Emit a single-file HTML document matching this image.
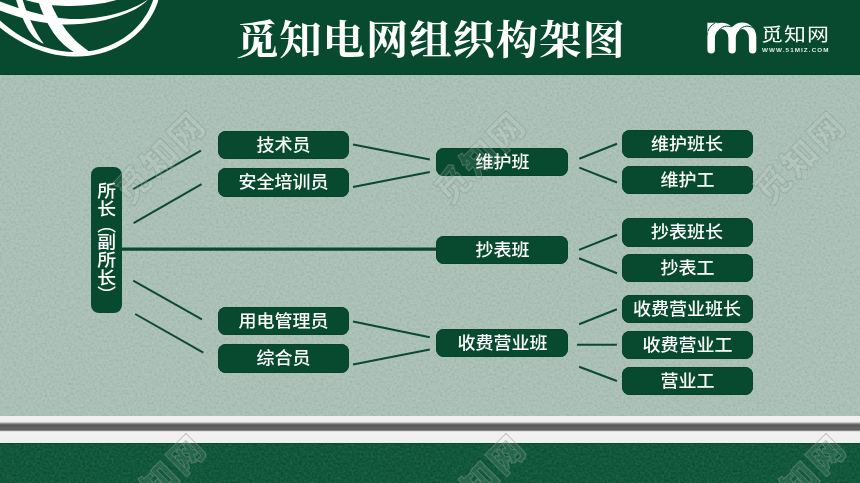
<!DOCTYPE html>
<html lang="zh-CN">
<head>
<meta charset="utf-8">
<title>觅知电网组织构架图</title>
<style>
html,body{margin:0;padding:0;}
body{width:860px;height:483px;overflow:hidden;background:#abc0b7;font-family:"Liberation Sans","Noto Sans CJK SC",sans-serif;}
#stage{position:relative;width:860px;height:483px;overflow:hidden;background:#abc0b7;}
#noise{position:absolute;left:0;top:0;width:860px;height:483px;mix-blend-mode:soft-light;opacity:0.2;pointer-events:none;}
#noise2{position:absolute;left:0;top:444px;width:860px;height:39px;mix-blend-mode:soft-light;opacity:0.22;pointer-events:none;}
#header{position:absolute;left:0;top:0;width:860px;height:74.5px;background:#084a30;border-bottom:1.5px solid #054229;box-sizing:border-box;}
#title{position:absolute;left:236px;top:11.5px;height:58px;line-height:58px;white-space:nowrap;color:#fff;
  font-family:"Liberation Serif","Noto Serif CJK SC",serif;font-weight:700;font-size:40px;letter-spacing:0.85px;
  transform:scaleX(1.06);transform-origin:0 0;}
#globe{position:absolute;left:0;top:0;width:180px;height:74px;}
#logo{position:absolute;left:700px;top:15px;width:160px;height:50px;}
#logoname{position:absolute;left:761px;top:19.5px;height:30px;line-height:30px;color:#fff;white-space:nowrap;
  font-family:"Liberation Sans","Noto Sans CJK SC",sans-serif;font-weight:400;font-size:18.6px;letter-spacing:0.9px;transform:scaleX(1.18);transform-origin:0 0;}
#logourl{position:absolute;left:762px;top:44.7px;height:10px;line-height:10px;color:#e4ebe7;white-space:nowrap;
  font-family:"Liberation Sans",sans-serif;font-weight:700;font-size:5.8px;letter-spacing:1px;transform:scaleX(1.085);transform-origin:0 0;}
.box{position:absolute;background:#084a30;box-shadow:inset 0 0 0 0.7px #06422a;color:#fff;border-radius:8px;text-align:center;white-space:nowrap;
  font-family:"Liberation Sans","Noto Sans CJK SC",sans-serif;font-weight:500;font-size:17px;height:28.2px;line-height:30.9px;}
.box span{display:inline-block;transform:scaleX(1.06);transform-origin:50% 50%;}
.c1{left:217.5px;width:131.5px;}
.c2{left:436px;width:132px;}
.c3{left:621.5px;width:131.5px;}
#chief{position:absolute;left:91px;top:167px;width:31px;height:146px;background:#084a30;border-radius:8px;color:#fff;}
#chief span{position:absolute;left:-1.8px;top:14.8px;transform:scaleX(1.07);width:31px;line-height:31px;writing-mode:vertical-rl;white-space:nowrap;
  font-family:"Liberation Sans","Noto Sans CJK SC",sans-serif;font-weight:500;font-size:17.6px;letter-spacing:0.4px;}
#chief i{font-style:normal;}
#chief .p1{margin-top:-2px;margin-bottom:-1px;}
#chief .p2{margin-top:-1px;}
#lines{position:absolute;left:0;top:0;width:860px;height:483px;}
#ledge{position:absolute;left:0;top:416.3px;width:860px;height:26.8px;
  background:linear-gradient(to bottom,#f0f2f1 0,#eef0ef 5.6px,#cfcfcf 6.4px,#8c8c8c 7.6px,#5e5e5e 8.8px,#5a5a5a 10px,#666 12px,#5e5e5e 13.8px,#8e8e8e 14.6px,#e6e6e6 15.6px,#f0f1f0 16.4px,#eef0ef 100%);}
#floor{position:absolute;left:0;top:443px;width:860px;height:40px;background:#11583c;border-top:1px solid #0a4a31;box-sizing:border-box;}
.wm{position:absolute;width:140px;height:44px;line-height:44px;margin-left:-70px;margin-top:-22px;text-align:center;white-space:nowrap;
  transform:rotate(-45deg);font-family:"Liberation Sans","Noto Sans CJK SC",sans-serif;font-weight:900;font-size:35px;letter-spacing:2.6px;
  color:rgba(255,255,255,0.09);-webkit-text-stroke:1px rgba(136,150,144,0.48);}
</style>
</head>
<body>
<div id="stage">
  <svg id="noise" width="860" height="483">
    <filter id="nz" x="0" y="0" width="100%" height="100%" color-interpolation-filters="sRGB">
      <feTurbulence type="fractalNoise" baseFrequency="0.42" numOctaves="3" seed="7" result="t"/>
      <feColorMatrix type="matrix" values="1 0 0 0 0  1 0 0 0 0  1 0 0 0 0  0 0 0 0 1"/>
      <feComponentTransfer><feFuncR type="linear" slope="1.6" intercept="-0.3"/><feFuncG type="linear" slope="1.6" intercept="-0.3"/><feFuncB type="linear" slope="1.6" intercept="-0.3"/></feComponentTransfer>
    </filter>
    <rect width="860" height="483" fill="#808080" filter="url(#nz)"/>
  </svg>
  

  <div id="header"></div>
  <svg id="globe" width="180" height="74" viewBox="0 0 180 74">
    <g fill="#fff">
      <!-- outer ring -->
      <path d="M160.3,-7.6 L159.0,-2.1 L157.4,3.2 L155.3,8.4 L152.8,13.4 L150.0,18.3 L146.7,23.0 L143.2,27.4 L139.3,31.5 L135.1,35.4 L130.7,39.0 L126.0,42.2 L121.1,45.1 L116.1,47.8 L110.9,50.0 L105.5,52.0 L100.1,53.6 L94.6,54.8 L89.1,55.7 L83.5,56.3 L77.9,56.6 L72.3,56.6 L66.7,56.2 L61.2,55.6 L55.7,54.7 L50.3,53.5 L45.0,52.0 L39.8,50.3 L34.6,48.4 L29.5,46.2 L24.5,43.8 L19.7,41.1 L14.9,38.3 L10.2,35.2 L5.6,32.0 L1.1,28.5 L-3.3,24.8 L-7.6,20.9 L-11.8,16.9 L-16.0,12.5 L-10.8,9.5 L-7.0,13.6 L-3.1,17.5 L0.8,21.2 L4.9,24.8 L9.1,28.1 L13.4,31.3 L17.8,34.2 L22.3,37.0 L26.9,39.5 L31.6,41.9 L36.4,44.0 L41.3,45.9 L46.3,47.6 L51.3,49.0 L56.5,50.2 L61.7,51.1 L67.0,51.7 L72.3,52.1 L77.6,52.1 L82.9,51.9 L88.2,51.3 L93.5,50.4 L98.8,49.2 L103.9,47.6 L109.0,45.8 L113.9,43.6 L118.7,41.1 L123.4,38.3 L127.8,35.1 L132.0,31.7 L135.9,28.0 L139.6,24.0 L142.9,19.8 L145.9,15.3 L148.6,10.7 L150.9,5.8 L152.8,0.9 L154.2,-4.2 L155.3,-9.4 Z"/>
      <!-- main latitude band -->
      <path d="M-2,0.8 C14,7 34,13.6 54,17.3 C76,21.2 102,18.6 123,11.6 C134,7.8 142,3.6 148,-0.5 C143,5 136,9.6 126,13.6 C106,21.4 82,25.6 58,24.2 C36,22.6 14,16.2 -2,9.6 Z"/>
      <!-- top arc -->
      <path d="M22,-1 C34,3 48,5.2 62,5.8 C82,6.6 102,4.6 120,-1 Z"/>
      <!-- thick meridian -->
      <path d="M37.5,-1 C41,10 46,22 53.5,33 C59.5,41.5 67,48 76,53.5 L93,54 C84,48 74,40.5 66,30 C59,20.5 53,9.5 49.3,-1 Z"/>
      <!-- thin meridian -->
      <path d="M15.8,-1 C18.5,8 22.5,19 28,29 C32,36 37,41 43.8,43.8 C39.5,38 36.5,33 33.5,27 C29,18 25,8 22.4,-1 Z"/>
    </g>
  </svg>
  <div id="title">觅知电网组织构架图</div>

  <svg id="logo" width="160" height="50" viewBox="700 15 160 50">
    <g fill="#fff">
      <path d="M707.4,49.85 V37 A14.2,14.3 0 0 1 735.8,37 V49.85 A3.7,3.75 0 0 1 728.4,49.85 V38 A6.75,9 0 0 0 714.9,38 V49.85 A3.75,3.75 0 0 1 707.4,49.85 Z"/>
      <path d="M728.4,37 A13.95,14.6 0 0 1 756.3,37 V49.85 A3.7,3.75 0 0 1 748.9,49.85 V38 A6.55,9 0 0 0 735.8,38 V37 Z"/>
    </g>
    <path d="M707.35,22.8 H718 L707.35,33 Z" fill="#fff"/>
    <g fill="none" stroke="#084a30" stroke-width="1">
      <path d="M707.9,31.2 C709.2,27.6 711.6,24.8 714.9,23.1"/>
      <path d="M719.2,29.9 C721,27.6 723.6,26.4 726.4,26.2 C728.2,26.1 729.8,26.3 731.2,26.8"/>
      <path d="M739.4,29.9 C741.4,27.5 744,26.3 746.8,26.2 C749.6,26.2 752,27 753.8,28.2"/>
    </g>
  </svg>
  <div id="logoname">觅知网</div>
  <div id="logourl">WWW.51MIZ.COM</div>

  <svg id="lines" width="860" height="483" viewBox="0 0 860 483">
    <g stroke="#0a4a30" stroke-width="2" fill="none">
      <line x1="133.2" y1="189.2" x2="200.9" y2="150.6"/>
      <line x1="133.6" y1="223.1" x2="201.6" y2="184.1"/>
      <line x1="133.2" y1="280.7" x2="201.9" y2="319.3"/>
      <line x1="135.2" y1="314" x2="203.3" y2="352.6"/>
      <line x1="353" y1="144.6" x2="429.8" y2="159.6"/>
      <line x1="353" y1="187.1" x2="429.8" y2="171.9"/>
      <line x1="353" y1="321.6" x2="429.8" y2="337.2"/>
      <line x1="353" y1="364.6" x2="429.8" y2="349.4"/>
      <line x1="579.3" y1="158.8" x2="617" y2="143.8"/>
      <line x1="579.3" y1="167.6" x2="617" y2="182.5"/>
      <line x1="579" y1="249.9" x2="617" y2="234.7"/>
      <line x1="579" y1="258.3" x2="617" y2="273.2"/>
      <line x1="579.1" y1="324.2" x2="616.9" y2="309.3"/>
      <line x1="577" y1="344.8" x2="616.9" y2="344.8"/>
      <line x1="579.1" y1="366.8" x2="616.9" y2="381"/>
    </g>
    <line x1="121" y1="249.15" x2="437" y2="249.15" stroke="#084a30" stroke-width="3.4"/>
  </svg>

  <div id="chief"><span>所长<i class="p1">（</i>副所长<i class="p2">）</i></span></div>

  <div class="box c1" style="top:130.7px;"><span>技术员</span></div>
  <div class="box c1" style="top:168.4px;"><span>安全培训员</span></div>
  <div class="box c1" style="top:306.7px;"><span>用电管理员</span></div>
  <div class="box c1" style="top:344.4px;"><span>综合员</span></div>

  <div class="box c2" style="top:147.7px;"><span>维护班</span></div>
  <div class="box c2" style="top:236.2px;"><span>抄表班</span></div>
  <div class="box c2" style="top:328.7px;"><span>收费营业班</span></div>

  <div class="box c3" style="top:129.7px;"><span>维护班长</span></div>
  <div class="box c3" style="top:166.2px;"><span>维护工</span></div>
  <div class="box c3" style="top:218.4px;"><span>抄表班长</span></div>
  <div class="box c3" style="top:254px;"><span>抄表工</span></div>
  <div class="box c3" style="top:294.7px;"><span>收费营业班长</span></div>
  <div class="box c3" style="top:330.5px;"><span>收费营业工</span></div>
  <div class="box c3" style="top:366.5px;"><span>营业工</span></div>

  <div id="ledge"></div>
  <div id="floor"></div>
  <svg id="noise2" width="860" height="40">
    <rect width="860" height="40" fill="#808080" filter="url(#nz)"/>
  </svg>
  

  <div class="wm" style="left:161.4px;top:157.6px;">觅知网</div>
  <div class="wm" style="left:481.1px;top:157.9px;">觅知网</div>
  <div class="wm" style="left:800.9px;top:158.1px;">觅知网</div>
  <div class="wm" style="left:161.4px;top:480.6px;">觅知网</div>
  <div class="wm" style="left:481.1px;top:480.9px;">觅知网</div>
  <div class="wm" style="left:800.9px;top:481.1px;">觅知网</div>
</div>
</body>
</html>
